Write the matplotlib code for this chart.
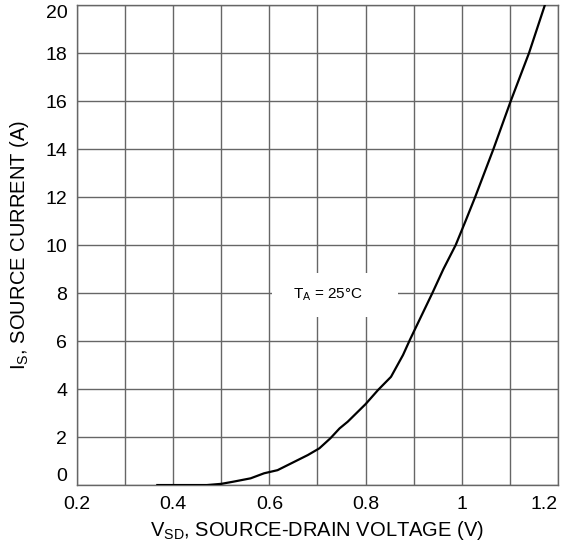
import matplotlib
matplotlib.use("Agg")
import matplotlib.pyplot as plt
from matplotlib.patches import Rectangle
import numpy as np

plt.rcParams['font.family'] = ['Liberation Sans', 'DejaVu Sans']
plt.rcParams['mathtext.fontset'] = 'custom'
plt.rcParams['mathtext.rm'] = 'Liberation Sans'

# Kennlinie
vsd = [0.367, 0.40, 0.44, 0.47, 0.50, 0.525, 0.561, 0.589, 0.617, 0.652, 0.680,
       0.704, 0.727, 0.746, 0.763, 0.80, 0.826, 0.853, 0.878, 0.892, 0.915,
       0.939, 0.962, 0.9875, 1.008, 1.028, 1.066, 1.102, 1.14, 1.173]
i_s = [0.0, 0.0, 0.0, 0.0, 0.05, 0.14, 0.28, 0.49, 0.62, 0.97, 1.25,
       1.53, 1.95, 2.36, 2.64, 3.37, 3.96, 4.51, 5.42, 6.04, 7.0,
       8.0, 9.0, 10.0, 11.0, 12.0, 14.0, 16.0, 18.0, 20.0]

xticks = [0.2, 0.4, 0.6, 0.8, 1.0, 1.2]
xticklabels = ['0.2', '0.4', '0.6', '0.8', '1', '1.2']
yticks = [0, 2, 4, 6, 8, 10, 12, 14, 16, 18, 20]

fig = plt.figure(figsize=(5.71, 5.45), dpi=100)
ax = fig.add_axes([0.1349, 0.110, 0.977 - 0.1349, 0.9908 - 0.110])

ax.plot(vsd, i_s, color='black', lw=1.6, zorder=3)

ax.set_xlim(0.2, 1.2)
ax.set_ylim(0, 20)
ax.set_xticks(xticks)
ax.set_xticklabels(xticklabels)
ax.set_xticks(np.arange(0.3, 1.2, 0.2), minor=True)
ax.set_yticks(yticks)
ax.grid(True, which='both', color='#666666', lw=1.0)
ax.tick_params(which='both', length=0, labelsize=14)
ax.tick_params(axis='x', pad=8)
ax.tick_params(axis='y', pad=7)
for s in ax.spines.values():
    s.set_color('#666666')
    s.set_linewidth(1.0)

# Randbeschriftungen wie im Original nach innen ziehen
ylab = ax.get_yticklabels()
ylab[0].set_va('bottom')
ylab[-1].set_va('top')
ax.get_xticklabels()[-1].set_ha('right')

ax.set_xlabel(r'V$_\mathregular{SD}$, SOURCE-DRAIN VOLTAGE (V)', fontsize=14.5, labelpad=4)
ax.set_ylabel(r'I$_\mathregular{S}$, SOURCE CURRENT (A)', fontsize=14.5)
ax.yaxis.set_label_coords(-0.095, 0.5)

# weisses Feld hinter der Temperaturangabe
ax.add_patch(Rectangle((0.606, 7.0), 0.261, 1.83, facecolor='white', edgecolor='none', zorder=2))
ax.text(0.722, 7.92, r'T$_\mathregular{A}$ = 25°C', fontsize=11, ha='center', va='center', zorder=4)

plt.savefig('out.png', dpi=100)
